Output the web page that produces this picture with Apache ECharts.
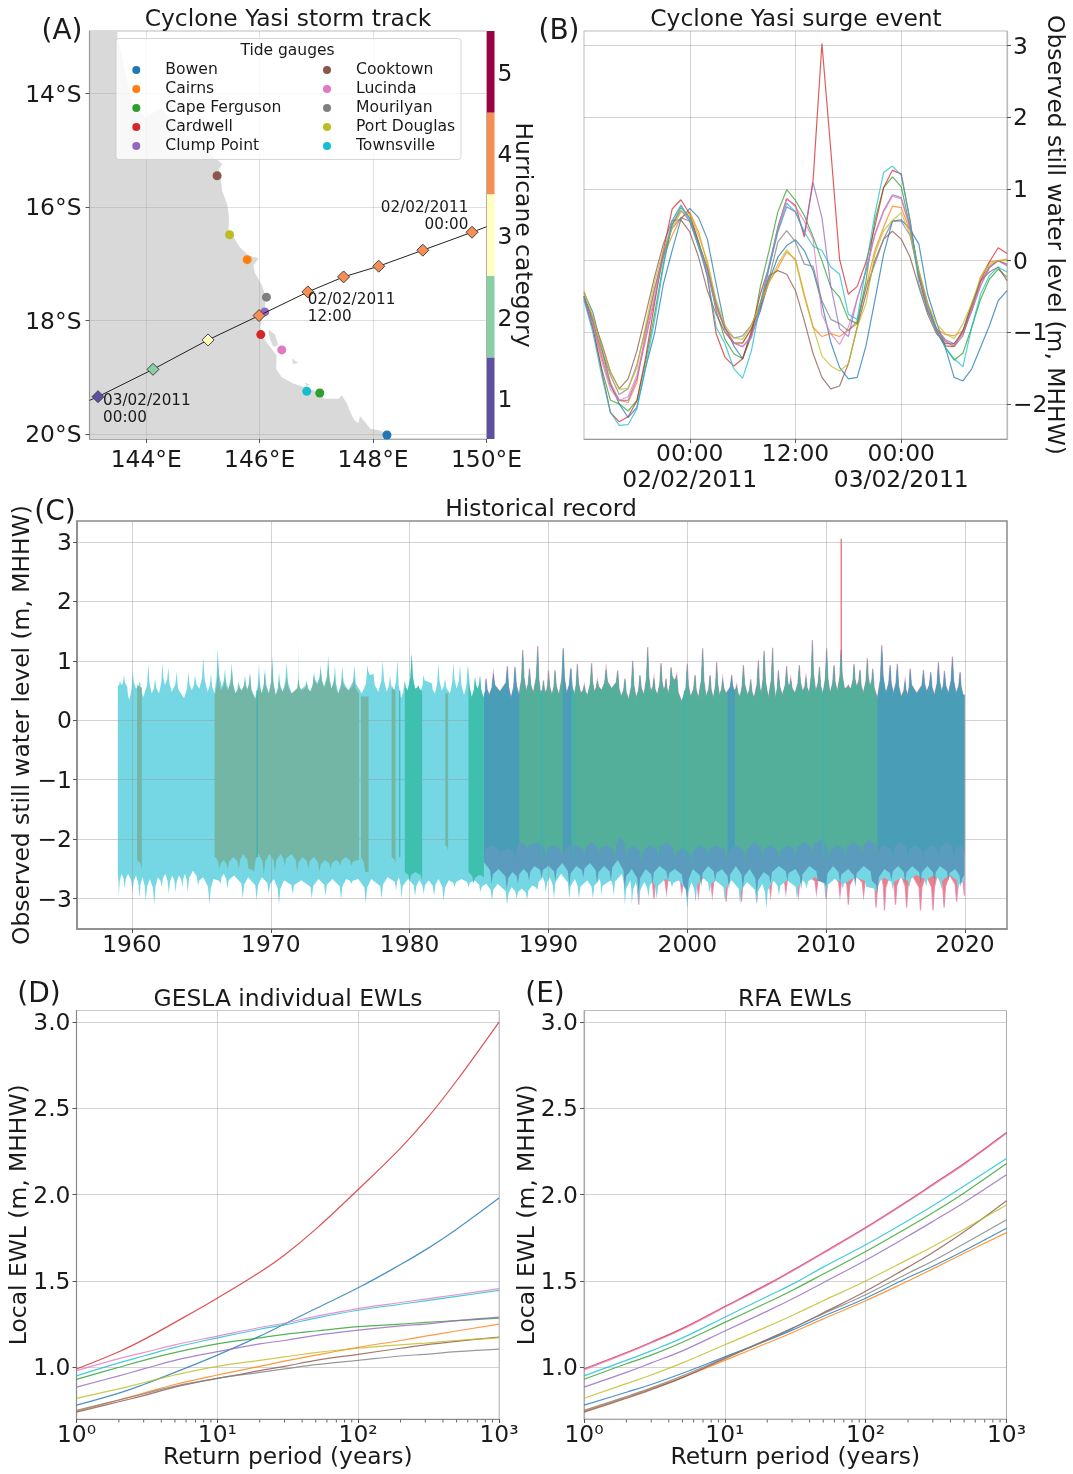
<!DOCTYPE html>
<html>
<head>
<meta charset="utf-8">
<style>html,body{margin:0;padding:0;background:#fff}#c{width:1073px;height:1474px}</style>
<script src="https://cdn.jsdelivr.net/npm/echarts@6/dist/echarts.min.js"></script>
</head>
<body>
<div id="c"></div>
<script>
// ---------- shared ----------
const gaugeNames = ['Bowen','Cairns','Cape Ferguson','Cardwell','Clump Point','Cooktown','Lucinda','Mourilyan','Port Douglas','Townsville'];
const gaugeColors = ['#1f77b4','#ff7f0e','#2ca02c','#d62728','#9467bd','#8c564b','#e377c2','#7f7f7f','#bcbd22','#17becf'];

// ---------- panel A ----------
const gaugeLons = [148.245,145.78,147.06,146.02,146.09,145.25,146.39,146.12,145.47,146.83];
const gaugeLats = [-20.02,-16.93,-19.28,-18.25,-17.85,-15.45,-18.52,-17.59,-16.49,-19.25];
const trackLine = [[150.0,-16.35],[149.745,-16.446],[148.877,-16.763],[148.10,-17.045],[147.48,-17.233],[146.85,-17.498],[145.99,-17.915],[145.09,-18.344],[144.12,-18.862],[143.15,-19.344],[143.0,-19.41]];
const trackFixes = [[149.745,-16.446],[148.877,-16.763],[148.10,-17.045],[147.48,-17.233],[146.85,-17.498],[145.99,-17.915],[145.09,-18.344],[144.12,-18.862],[143.15,-19.344]];
const trackCategories = [4,4,4,4,4,4,3,2,1];
const hurricaneCategories = [1,2,3,4,5];
const categoryColors = {1:'#5e4fa2',2:'#88cfa4',3:'#ffffbf',4:'#f98e52',5:'#9e0142'};
const annotationTexts = ['02/02/2011\n00:00','02/02/2011\n12:00','03/02/2011\n00:00'];
const annotationPoints = [[149.68,-16.17],[146.85,-17.80],[143.24,-19.57]];
const annotationAligns = ['right','left','left'];
const lonTicks = [144,146,148,150];
const latTicks = [-20,-18,-16,-14];
const mainland = [[143.49,-12.8],[143.49,-13.05],[143.58,-13.37],[143.64,-13.67],[143.75,-14.14],[143.99,-14.43],[144.26,-14.25],[144.40,-14.43],[144.70,-14.72],[144.99,-14.96],[145.25,-15.16],[145.34,-15.25],[145.28,-15.34],[145.31,-15.49],[145.34,-15.72],[145.43,-15.96],[145.46,-16.19],[145.45,-16.43],[145.54,-16.53],[145.65,-16.71],[145.80,-16.85],[145.98,-16.91],[145.89,-17.03],[145.92,-17.17],[146.04,-17.38],[146.10,-17.56],[146.10,-17.70],[146.07,-17.88],[146.01,-18.12],[146.07,-18.32],[146.21,-18.5],[146.30,-18.62],[146.29,-18.85],[146.39,-19.0],[146.59,-19.11],[146.77,-19.17],[146.95,-19.23],[147.15,-19.38],[147.39,-19.38],[147.45,-19.32],[147.54,-19.47],[147.60,-19.62],[147.67,-19.76],[147.74,-19.81],[147.77,-19.69],[147.86,-19.79],[147.95,-19.91],[148.12,-19.94],[148.24,-20.0],[148.33,-20.08],[148.45,-20.2],[143,-20.2],[143,-12.8]];
const hinchinbrook = [[146.15,-18.16],[146.27,-18.25],[146.33,-18.44],[146.24,-18.47],[146.18,-18.32]];
const palmIsland = [[146.57,-18.67],[146.68,-18.75],[146.59,-18.77]];
const magneticIsland = [[146.80,-19.10],[146.88,-19.13],[146.83,-19.17]];

// ---------- panel B ----------
const surgeHours = [-12,-11,-10,-9,-8,-7,-6,-5,-4,-3,-2,-1,0,1,2,3,4,5,6,7,8,9,10,11,12,13,14,15,16,17,18,19,20,21,22,23,24,25,26,27,28,29,30,31,32,33,34,35,36];
const surgeTimeLabels = {0:'00:00\n02/02/2011',12:'12:00',24:'00:00\n03/02/2011'};
const surgeBowen = [-.45,-.72,-1.21,-1.72,-2.0,-2.19,-2.05,-1.49,-1.02,-.33,.14,.58,.73,.6,.3,-.33,-.93,-1.19,-1.37,-1.02,-.7,-.28,.05,.21,.29,.14,-.14,-.6,-1.14,-1.49,-1.65,-1.63,-1.19,-.56,.09,.55,.57,.44,.23,-.47,-.86,-1.21,-1.63,-1.68,-1.51,-1.21,-.91,-.56,-.42];
const surgeCairns = [-.5,-.85,-1.3,-1.7,-1.95,-1.98,-1.7,-1.0,-.4,.05,.35,.6,.68,.4,-.05,-.6,-.95,-1.15,-1.15,-.95,-.65,-.3,-.1,.12,.02,-.47,-.93,-1.06,-1.02,-1.06,-.97,-.88,-.37,.14,.47,.76,.74,.42,-.23,-.7,-.95,-1.03,-1.05,-.98,-.7,-.23,-.02,0,.02];
const surgeCapeFerguson = [-.5,-.95,-1.5,-1.95,-2.0,-2.1,-1.95,-1.4,-.75,-.05,.5,.74,.6,.25,-.12,-.7,-1.1,-1.3,-1.37,-1.05,-.37,.14,.68,.99,.84,.63,.33,0,-.37,-.51,-.82,-.88,-.28,.56,1.02,1.17,1.03,.47,-.14,-.6,-.98,-1.21,-1.39,-1.29,-.93,-.54,-.26,-.12,-.23];
const surgeCardwell = [-.53,-.93,-1.54,-2.12,-2.25,-2.18,-1.96,-1.35,-.6,.14,.72,.85,.65,.26,-.23,-1.02,-1.35,-1.47,-1.37,-.98,-.47,-.09,.47,.86,.77,.33,1.13,3.03,1.55,.02,-.47,-.36,-.02,.47,1.02,1.26,1.21,.56,-.23,-.7,-.98,-1.19,-1.2,-.98,-.63,-.28,-.02,.18,.1];
const surgeClumpPoint = [-.5,-.9,-1.35,-1.75,-1.95,-1.95,-1.65,-1.1,-.55,.05,.5,.7,.55,.2,-.15,-.65,-.95,-1.15,-1.2,-1.05,-.7,-.1,.4,.75,.68,.38,1.09,.6,-.35,-.95,-1.06,-.53,-.14,.37,.7,.92,.88,.47,-.2,-.65,-.95,-1.1,-1.16,-1.02,-.7,-.35,-.1,0,-.07];
const surgeCooktown = [-.5,-.8,-1.15,-1.55,-1.79,-1.65,-1.26,-.75,-.23,.23,.56,.57,.4,.05,-.42,-.75,-1.0,-1.15,-1.15,-.95,-.65,-.21,-.14,-.19,-.42,-.84,-1.3,-1.63,-1.79,-1.75,-1.44,-.93,-.47,0,.3,.41,.3,.05,-.37,-.75,-1.02,-1.16,-1.16,-.98,-.6,-.28,-.16,-.09,-.28];
const surgeLucinda = [-.5,-.9,-1.4,-1.8,-1.95,-1.9,-1.6,-1.05,-.5,.1,.55,.78,.55,.2,-.15,-.65,-.95,-1.15,-1.2,-1.08,-.6,-.05,.45,.87,.75,.55,.3,-.75,-1.02,-1.17,-.93,-.53,-.15,.35,.68,.9,.86,.45,-.2,-.65,-.95,-1.12,-1.18,-1.02,-.7,-.35,-.1,0,-.05];
const surgeMourilyan = [-.5,-.85,-1.25,-1.6,-1.87,-1.79,-1.45,-.95,-.4,.1,.45,.6,.55,.25,-.1,-.6,-.95,-1.08,-1.05,-.9,-.6,-.25,.26,.42,.26,-.05,-.08,-.56,-.82,-.88,-.98,-.84,-.37,-.05,.3,.55,.55,.35,-.2,-.6,-.95,-1.13,-1.2,-1.05,-.65,-.3,-.08,0,-.05];
const surgePortDouglas = [-.42,-.78,-1.2,-1.55,-1.8,-1.78,-1.5,-.9,-.3,.15,.45,.68,.65,.35,0,-.55,-.9,-1.08,-1.1,-.9,-.6,-.3,-.05,.15,0,-.51,-.93,-1.33,-1.47,-1.54,-1.44,-.93,-.6,.09,.42,.56,.67,.37,-.14,-.6,-.88,-1.02,-1.09,-.88,-.6,-.23,-.05,0,0];
const surgeTownsville = [-.55,-1.0,-1.6,-2.12,-2.3,-2.29,-2.07,-1.49,-.84,-.09,.56,.77,.58,.19,-.21,-.93,-1.16,-1.51,-1.64,-1.26,-.6,-.09,.42,.8,.68,.4,.2,.14,-.09,-.19,-.75,-.82,-.09,.65,1.23,1.32,1.19,.56,-.33,-.7,-.98,-1.21,-1.37,-1.48,-.93,-.47,-.21,-.09,-.16];
const surgeTicks = [-2,-1,0,1,2,3];
const surgeSeries = [surgeBowen,surgeCairns,surgeCapeFerguson,surgeCardwell,surgeClumpPoint,surgeCooktown,surgeLucinda,surgeMourilyan,surgePortDouglas,surgeTownsville];

// ---------- panel C (envelopes as [year, metres]) ----------
const recordYears = [1960,1970,1980,1990,2000,2010,2020];
const recordTicks = [-3,-2,-1,0,1,2,3];
const recordUpper = [[1958.99,.57],[1959.14,.67],[1959.28,.59],[1959.42,.76],[1959.66,.56],[1959.81,.34],[1960.05,.85],[1960.29,.53],[1960.58,.67],[1960.82,.39],[1961.18,.95],[1961.42,.45],[1961.66,.70],[1961.95,.45],[1962.19,.97],[1962.38,.59],[1962.62,.89],[1962.86,.48],[1963.22,.81],[1963.75,.37],[1964.06,.81],[1964.30,.50],[1964.54,.76],[1964.85,.53],[1965.14,1.05],[1965.45,.48],[1965.69,.79],[1965.93,.45],[1966.17,1.21],[1966.46,.56],[1966.70,.87],[1966.94,.53],[1967.18,.97],[1967.45,.45],[1967.66,.65],[1967.90,.50],[1968.14,.76],[1968.31,.53],[1968.50,.81],[1968.86,.37],[1969.15,.95],[1969.34,.45],[1969.58,.87],[1969.87,.45],[1970.11,1.08],[1970.35,.42],[1970.59,.81],[1970.85,.48],[1971.14,.98],[1971.50,.45],[1971.94,.5],[1971.98,1.375],[1972.02,.5],[1972.22,.53],[1972.58,.67],[1972.82,.48],[1973.11,.81],[1973.35,.62],[1973.59,.93],[1973.83,.56],[1974.14,1.09],[1974.38,.53],[1974.62,.93],[1974.86,.45],[1975.15,.90],[1975.58,.50],[1976.02,.93],[1976.55,.45],[1976.96,.93],[1977.15,.76],[1977.39,.79],[1977.75,.48],[1978.06,1.0],[1978.35,.48],[1978.59,.76],[1978.83,.45],[1979.12,1.02],[1979.38,.37],[1979.62,.67],[1979.86,.50],[1980.15,1.12],[1980.39,.53],[1980.63,.59],[1980.82,.50],[1980.99,.76],[1981.59,.62],[1981.83,.45],[1982.07,.97],[1982.31,.50],[1982.55,.70],[1982.91,.45],[1983.15,.98],[1983.39,.53],[1983.63,.93],[1983.92,.42],[1984.18,.93],[1984.47,.39],[1984.71,.73],[1984.90,.53],[1985.07,.76],[1985.31,.39],[1985.50,.70],[1985.74,.42],[1986.03,.79],[1986.51,.48],[1987.04,.91],[1987.30,.37],[1987.59,.90],[1987.88,.42],[1988.15,1.18],[1988.39,.48],[1988.63,.87],[1988.91,.45],[1989.23,1.25],[1989.44,.42],[1989.64,.67],[1989.83,.45],[1990.0,.84],[1990.25,.42],[1990.47,.84],[1990.76,.42],[1991.07,1.21],[1991.31,.45],[1991.6,.87],[1991.86,.42],[1992.08,.95],[1992.32,.45],[1992.58,.59],[1992.82,.42],[1993.11,.96],[1993.30,.48],[1993.52,.67],[1993.83,.50],[1994.15,.87],[1994.55,.53],[1994.99,.84],[1995.23,.39],[1995.51,.70],[1995.78,.34],[1996.07,1.0],[1996.31,.37],[1996.59,.76],[1996.88,.42],[1997.15,1.23],[1997.36,.48],[1997.60,.71],[1997.84,.42],[1998.11,.96],[1998.30,.50],[1998.47,.70],[1998.64,.45],[1998.83,.89],[1999.04,.67],[1999.24,.76],[1999.60,.31],[2000.0,.95],[2000.24,.39],[2000.56,.76],[2000.80,.37],[2001.11,1.21],[2001.35,.39],[2001.64,.76],[2001.88,.37],[2002.12,.98],[2002.31,.42],[2002.55,.70],[2002.79,.45],[2003.20,.76],[2003.37,.50],[2003.56,.59],[2003.80,.39],[2004.04,.93],[2004.33,.42],[2004.57,.69],[2004.81,.37],[2005.12,1.01],[2005.31,.42],[2005.53,1.17],[2005.84,.37],[2006.15,1.22],[2006.34,.37],[2006.56,.84],[2006.85,.42],[2007.16,.91],[2007.31,.56],[2007.45,.70],[2007.76,.45],[2008.07,.93],[2008.31,.48],[2008.55,.73],[2008.79,.45],[2009.01,1.35],[2009.25,.48],[2009.52,.90],[2009.76,.42],[2010.04,1.21],[2010.28,.45],[2010.57,.93],[2010.81,.48],[2011.08,1.18],[2011.32,.53],[2011.60,.59],[2011.80,.53],[2012.01,.95],[2012.20,.56],[2012.44,.85],[2012.68,.45],[2012.97,1.04],[2013.16,.56],[2013.36,.87],[2013.69,.37],[2014.01,1.26],[2014.30,.45],[2014.61,.93],[2014.85,.45],[2015.13,.95],[2015.40,.39],[2015.69,.67],[2015.88,.42],[2016.05,.87],[2016.53,.45],[2017.01,.85],[2017.25,.48],[2017.54,.81],[2017.80,.42],[2018.09,.98],[2018.33,.48],[2018.52,.83],[2018.81,.45],[2019.10,1.07],[2019.36,.45],[2019.65,.81],[2019.84,.45],[2019.96,.42]];
const townsvilleLower = [[1958.98,-2.58],[1959.05,-2.96],[1959.25,-2.58],[1959.47,-2.83],[1959.72,-2.58],[1960.04,-2.89],[1960.29,-2.61],[1960.54,-2.99],[1960.76,-2.64],[1960.99,-3.04],[1961.28,-2.67],[1961.61,-3.09],[1961.86,-2.64],[1962.15,-2.81],[1962.40,-2.58],[1962.65,-2.92],[1962.90,-2.61],[1963.14,-2.89],[1963.39,-2.61],[1963.64,-2.81],[1963.82,-2.58],[1964.01,-2.89],[1964.39,-2.53],[1964.76,-2.78],[1965.13,-2.64],[1965.58,-3.10],[1965.87,-2.67],[1966.37,-2.75],[1966.62,-2.58],[1966.87,-2.83],[1967.36,-2.61],[1967.98,-3.0],[1968.36,-2.64],[1968.98,-3.03],[1969.35,-2.64],[1969.85,-2.92],[1970.22,-2.67],[1970.59,-3.10],[1970.96,-2.69],[1971.58,-2.92],[1972.2,-2.69],[1972.95,-3.0],[1973.44,-2.67],[1973.94,-2.95],[1974.44,-2.67],[1975.06,-3.02],[1975.43,-2.67],[1975.8,-2.75],[1976.3,-2.67],[1976.84,-3.08],[1977.24,-2.67],[1977.98,-3.0],[1978.41,-2.64],[1979.03,-2.86],[1979.23,-2.64],[1979.4,-3.0],[1979.89,-2.67],[1980.39,-2.96],[1980.69,-2.69],[1981.01,-2.92],[1981.38,-2.69],[1981.76,-2.95],[1982.08,-2.67],[1982.45,-3.04],[1982.82,-2.69],[1983.24,-2.81],[1983.74,-2.67],[1984.24,-2.81],[1984.68,-2.69],[1985.1,-2.89],[1985.53,-2.75],[1985.93,-3.03],[1986.35,-2.75],[1987.02,-3.11],[1987.34,-2.81],[1987.71,-3.0],[1988.08,-2.83],[1988.46,-3.02],[1988.83,-2.78],[1989.2,-2.86],[1989.6,-2.64],[1989.8,-2.89],[1990.1,-2.64],[1990.4,-3.0],[1990.9,-2.58],[1991.5,-3.0],[1991.9,-2.67],[1992.2,-3.0],[1992.8,-2.69],[1993.2,-3.0],[1993.7,-2.67],[1993.8,-2.95],[1994.5,-2.69],[1994.7,-2.95],[1995.3,-2.58],[1995.5,-3.10],[1995.9,-2.69],[1996.0,-3.10],[1996.3,-2.72],[1996.5,-3.11],[1996.9,-2.72],[1997.2,-2.97],[1997.5,-2.69],[1997.8,-3.0],[1998.4,-2.67],[1998.9,-2.81],[1999.4,-2.69],[2000.0,-3.17],[2000.3,-2.72],[2000.6,-3.06],[2001.1,-2.64],[2001.6,-2.89],[2002.0,-2.69],[2002.7,-3.02],[2003.2,-2.69],[2003.8,-3.09],[2004.3,-2.72],[2005.0,-3.11],[2005.4,-2.75],[2005.7,-3.17],[2006.2,-2.69],[2006.6,-2.95],[2007.2,-2.69],[2007.9,-3.0],[2008.3,-2.69],[2008.6,-2.83],[2009.2,-2.64],[2010.0,-2.97],[2010.6,-2.67],[2011.2,-2.83],[2011.7,-2.7],[2012.2,-2.65],[2012.9,-2.8],[2013.6,-2.9],[2014.2,-2.65],[2014.8,-2.85],[2015.4,-2.65],[2016,-2.8],[2016.5,-2.6],[2017.2,-2.8],[2017.8,-2.6],[2018.3,-2.85],[2018.9,-2.6],[2019.5,-2.85],[2019.96,-2.7]];
const cardwellLower = [[1985.4,-2.0],[1995.9,-2.0],[1996.2,-2.6],[1996.5,-3.1],[1997.0,-2.6],[1997.6,-3.0],[1998,-2.6],[1998.5,-2.9],[1999,-2.6],[1999.6,-2.9],[2000.2,-2.6],[2000.8,-2.95],[2001.3,-2.6],[2001.8,-2.95],[2002.4,-2.6],[2002.8,-3.05],[2003.3,-2.6],[2003.9,-3.05],[2004.5,-2.6],[2005,-3.05],[2005.5,-2.6],[2006,-2.95],[2006.5,-2.6],[2007.1,-2.9],[2007.6,-2.6],[2008,-2.95],[2008.6,-2.6],[2009.3,-2.9],[2009.7,-2.6],[2010,-3.0],[2010.5,-2.6],[2011,-2.95],[2011.3,-2.6],[2011.6,-3.1],[2012.1,-2.6],[2012.7,-2.95],[2013.3,-2.6],[2013.6,-3.15],[2014,-2.6],[2014.2,-3.2],[2014.6,-2.6],[2015,-3.1],[2015.4,-2.6],[2015.8,-3.15],[2016.2,-2.6],[2016.8,-3.2],[2017.2,-2.6],[2017.7,-3.2],[2018,-2.6],[2018.5,-3.15],[2018.9,-2.6],[2019.4,-3.05],[2019.7,-2.6],[2019.96,-2.95]];
const bowenLower = [[1985.4,-2.4],[1985.9,-2.75],[1986.4,-2.5],[1987,-2.85],[1987.4,-2.55],[1987.8,-2.75],[1988.2,-2.5],[1988.6,-2.7],[1989,-2.45],[1989.5,-2.65],[1990,-2.45],[1990.5,-2.7],[1991,-2.4],[1991.5,-2.8],[1992,-2.45],[1992.5,-2.65],[1993,-2.4],[1993.5,-2.75],[1994,-2.45],[1994.5,-2.7],[1995.0,-2.35],[1995.5,-2.85],[1996,-2.5],[1996.5,-2.95],[1997,-2.5],[1997.5,-2.75],[1998,-2.45],[1998.6,-2.7],[1999.1,-2.5],[1999.7,-2.75],[2000,-3.0],[2000.4,-2.5],[2001,-2.8],[2001.5,-2.45],[2002,-2.7],[2002.5,-2.5],[2003,-2.85],[2003.5,-2.45],[2004,-2.85],[2004.5,-2.5],[2005,-2.95],[2005.5,-2.55],[2006,-2.75],[2006.6,-2.45],[2007.2,-2.7],[2007.8,-2.5],[2008.2,-2.85],[2008.8,-2.45],[2009.4,-2.7],[2010,-2.8],[2010.5,-2.45],[2011,-2.75],[2011.6,-2.5],[2012.1,-2.8],[2012.7,-2.45],[2013.3,-2.7],[2013.7,-2.9],[2014.2,-2.5],[2014.7,-2.7],[2015.2,-2.45],[2015.7,-2.75],[2016.2,-2.45],[2016.8,-2.75],[2017.3,-2.45],[2017.8,-2.75],[2018.2,-2.45],[2018.8,-2.7],[2019.3,-2.5],[2019.7,-2.8],[2019.96,-2.6]];
const midLower = [[1985.35,-2.3],[1985.9,-2.1],[1986.5,-2.3],[1987.1,-2.15],[1987.6,-2.35],[1987.9,-2.05],[1988.5,-2.2],[1989.2,-2.05],[1989.8,-2.3],[1990.3,-2.1],[1990.9,-2.25],[1992,-2.1],[1992.6,-2.3],[1993.1,-2.05],[1993.6,-2.25],[1994.2,-2.1],[1994.8,-2.35],[1995.2,-1.95],[1995.6,-2.3],[1996.1,-2.1],[1996.7,-2.4],[1997.3,-2.1],[1997.9,-2.3],[1998.5,-2.05],[1999.1,-2.35],[1999.7,-2.15],[2000.3,-2.4],[2000.9,-2.1],[2001.5,-2.3],[2002.1,-2.1],[2002.8,-2.3],[2003.6,-2.1],[2004.2,-2.4],[2004.8,-2.05],[2005.4,-2.3],[2006,-2.1],[2006.6,-2.35],[2007.2,-2.1],[2007.8,-2.3],[2008.4,-2.05],[2009,-2.25],[2009.6,-2.0],[2010.2,-2.35],[2010.8,-2.1],[2011.4,-2.3],[2012,-2.05],[2012.6,-2.3],[2013.1,-2.0],[2013.7,-2.3],[2014.2,-2.1],[2014.8,-2.3],[2015.3,-2.05],[2015.9,-2.3],[2016.4,-2.1],[2017,-2.35],[2017.6,-2.1],[2018.1,-2.3],[2018.7,-2.05],[2019.2,-2.3],[2019.7,-2.1],[2019.96,-2.25]];
const shallowUpper = [[1960.37,.6],[1960.71,.55],[1966,.45],[1966.2,.97],[1966.4,.5],[1966.7,.72],[1966.9,.5],[1967.2,.85],[1967.45,.45],[1967.7,.62],[1967.9,.5],[1968.15,.7],[1968.3,.5],[1968.5,.78],[1968.9,.35],[1969.15,.7],[1969.35,.45],[1969.55,.8],[1969.85,.45],[1970.1,.95],[1970.35,.42],[1970.6,.68],[1970.85,.48],[1971.15,.75],[1971.5,.45],[1972,.7],[1972.2,.5],[1972.6,.62],[1972.85,.48],[1973.1,.75],[1973.35,.6],[1973.6,.85],[1973.85,.55],[1974.15,.95],[1974.35,.53],[1974.6,.75],[1974.85,.45],[1975.15,.72],[1975.6,.5],[1976,.72],[1976.35,.45],[1976.6,.4],[1977.05,.4],[1978.7,.6],[1979,.5],[1982.57,.45],[1982.77,.45]];
const shallowLower = [[1960.37,-2.35],[1960.71,-2.5],[1966,-2.3],[1966.3,-2.5],[1966.6,-2.35],[1966.9,-2.5],[1967.3,-2.3],[1967.7,-2.5],[1968,-2.25],[1968.4,-2.5],[1968.8,-2.55],[1969.1,-2.25],[1969.5,-2.6],[1969.9,-2.25],[1970.3,-2.55],[1970.7,-2.25],[1971,-2.45],[1971.5,-2.25],[1971.9,-2.55],[1972.3,-2.3],[1972.7,-2.5],[1973.1,-2.3],[1973.5,-2.55],[1973.9,-2.35],[1974.3,-2.5],[1974.7,-2.35],[1975,-2.45],[1975.4,-2.3],[1975.8,-2.45],[1976.2,-2.35],[1976.5,-2.3],[1976.8,-2.55],[1977.05,-2.55],[1978.7,-2.3],[1979,-2.4],[1982.57,-2.1],[1982.77,-2.2]];
const tealLower = [[1979.65,-2.55],[1980,-2.7],[1980.4,-2.55],[1980.9,-2.7],[1984.24,-2.55],[1984.6,-2.75],[1985.0,-2.6],[1985.35,-2.65]];
const shallowBlocks = [[1960.37,1960.71],[1965.95,1976.35],[1976.5,1977.04],[1978.7,1978.98],[1982.57,1982.77]];
const tealBlocks = [[1979.65,1980.9],[1984.24,1985.35]];
const coreBlocks = [[1987.9,1991.04],[1991.66,2002.9],[2003.43,2013.7]];
const bodyBlocks = [[1985.35,1987.9],[1991.04,1991.66],[2002.9,2003.43],[2013.7,2019.96]];
const streakBlocks = [[1968.97,1969.07],[1979.25,1979.33],[1989.45,1989.55],[1991.75,1991.85],[1999.75,1999.85],[2009.75,2009.85]];
const yasiSpike = [[2011.09,.9],[2011.09,3.05]];

// ---------- panels D & E ----------
const returnPeriods = [1,2,3,5,10,20,30,50,100,200,300,500,1000];
const minorReturnTicks = [2,3,4,5,6,7,8,9,20,30,40,50,60,70,80,90,200,300,400,500,600,700,800,900];
const ewlTicks = [1,1.5,2,2.5,3];
const gesla = [
 [.78,.85,.90,.97,1.07,1.18,1.25,1.34,1.46,1.595,1.68,1.80,1.98],
 [.745,.81,.85,.90,.955,1.005,1.035,1.07,1.115,1.155,1.18,1.21,1.25],
 [.93,1.0,1.04,1.085,1.135,1.17,1.19,1.21,1.235,1.25,1.26,1.27,1.285],
 [.99,1.09,1.16,1.26,1.40,1.55,1.65,1.80,2.03,2.27,2.43,2.66,3.0],
 [.885,.95,.99,1.04,1.09,1.135,1.155,1.185,1.215,1.24,1.25,1.27,1.29],
 [.74,.80,.835,.885,.935,.98,1.005,1.04,1.075,1.11,1.13,1.15,1.175],
 [.98,1.05,1.085,1.13,1.18,1.23,1.255,1.295,1.34,1.375,1.395,1.42,1.455],
 [.75,.81,.845,.89,.935,.97,.99,1.015,1.04,1.065,1.075,1.09,1.105],
 [.82,.875,.91,.955,1.005,1.04,1.06,1.085,1.11,1.13,1.14,1.155,1.17],
 [.95,1.025,1.065,1.115,1.17,1.22,1.245,1.285,1.33,1.365,1.385,1.41,1.445]
];
const rfa = [
 [.78,.855,.90,.965,1.06,1.155,1.215,1.295,1.40,1.52,1.585,1.675,1.805],
 [.745,.825,.875,.94,1.04,1.14,1.20,1.28,1.385,1.50,1.57,1.66,1.78],
 [.93,1.02,1.07,1.145,1.26,1.375,1.445,1.54,1.67,1.81,1.895,2.01,2.18],
 [.99,1.085,1.145,1.225,1.352,1.48,1.56,1.665,1.81,1.965,2.06,2.18,2.36],
 [.885,.97,1.025,1.095,1.21,1.325,1.395,1.49,1.62,1.76,1.845,1.955,2.115],
 [.74,.82,.87,.94,1.05,1.16,1.225,1.315,1.44,1.58,1.665,1.785,1.965],
 [.985,1.08,1.14,1.22,1.347,1.475,1.555,1.66,1.805,1.96,2.055,2.175,2.355],
 [.75,.83,.88,.95,1.055,1.16,1.225,1.31,1.42,1.545,1.615,1.715,1.855],
 [.82,.905,.955,1.025,1.13,1.235,1.30,1.385,1.50,1.625,1.70,1.80,1.94],
 [.95,1.04,1.095,1.17,1.29,1.41,1.48,1.58,1.71,1.85,1.935,2.05,2.21]
];

// ---------- styling ----------
const FONT = 'DejaVu Sans', INK = '#1a1a1a', SIZE = 23.4, GRID = 'rgba(150,150,150,0.42)', GRID_A = 'rgba(150,150,150,0.3)';
const chart = echarts.init(document.getElementById('c'), null, {renderer:'canvas'});
const minus = v => String(v).replace('-', '\u2212');
const sup = {1:'10\u2070',10:'10\u00b9',100:'10\u00b2',1000:'10\u00b3'};

function axisBase(o) {
  return Object.assign({
    type:'value', scale:true, z:3, nameMoveOverlap:false,
    axisLine:{show:true, onZero:false, lineStyle:{color:o.lineColor||'#8a8a8a', width:o.lineWidth||1.2}},
    axisTick:{show:true, length:4, lineStyle:{color:'#555', width:1}},
    axisLabel:{color:INK, fontFamily:FONT, fontSize:SIZE, margin:6, hideOverlap:false},
    nameTextStyle:{color:INK, fontFamily:FONT, fontSize:SIZE},
    splitLine:{show:true, lineStyle:{color:o.gridColor||GRID, width:1}}
  }, o.extra||{});
}
function custom(base, o) {
  const a = axisBase({lineColor:o.lineColor, lineWidth:o.lineWidth, gridColor:o.gridColor, extra:base});
  if (o.ticks) {
    a.axisTick.customValues = o.ticks;
    a.axisLabel.customValues = o.ticks;
  }
  if (o.fmt) a.axisLabel.formatter = o.fmt;
  if (o.margin !== undefined) a.axisLabel.margin = o.margin;
  if (o.drop) { a.axisLabel.verticalAlign = 'top'; a.axisLabel.lineHeight = o.drop; }
  if (o.name) {
    a.name = o.name; a.nameLocation = 'middle'; a.nameGap = o.nameGap; a.nameRotate = o.nameRotate;
  }
  return a;
}

const gridBase = {outerBoundsMode:'none', containLabel:false};
const grids = [
  {left:89.5, top:31, width:397, height:408, show:true, borderColor:'#bbb', borderWidth:1},
  {left:487, top:31, width:7.5, height:408},
  {left:584, top:31, width:423, height:408, show:true, borderColor:'#bbb', borderWidth:1},
  {left:77, top:521, width:930, height:408, show:true, borderColor:'#8a8a8a', borderWidth:1.5},
  {left:76.5, top:1010.5, width:422.5, height:408.5, show:true, borderColor:'#ccc', borderWidth:1},
  {left:584, top:1010.5, width:422.5, height:408.5, show:true, borderColor:'#bbb', borderWidth:1}
].map(g=>Object.assign({}, gridBase, g));

const xAxes = [
  custom({gridIndex:0, min:143, max:150}, {ticks:lonTicks, fmt:v=>v+'\u00b0E', margin:10, lineColor:'#aaa', gridColor:GRID_A}),
  {type:'value', gridIndex:1, min:0, max:1, show:false},
  custom({gridIndex:2, min:-12, max:36}, {ticks:Object.keys(surgeTimeLabels).map(Number), fmt:v=>surgeTimeLabels[v]||'', margin:3, lineColor:'#999'}),
  custom({gridIndex:3, min:1956.04, max:2023.03}, {ticks:recordYears, fmt:v=>String(v), margin:5, lineColor:'#8a8a8a', lineWidth:1.5}),
  custom({gridIndex:4, type:'log', logBase:10, min:1, max:1000}, {fmt:v=>sup[Math.round(v)]||'', margin:5, name:'Return period (years)', nameGap:27, lineColor:'#888'}),
  custom({gridIndex:5, type:'log', logBase:10, min:1, max:1000}, {fmt:v=>sup[Math.round(v)]||'', margin:5, name:'Return period (years)', nameGap:27, lineColor:'#aaa'})
];
xAxes[2].axisLabel.lineHeight = 26;

const yAxes = [
  custom({gridIndex:0, min:-20.09, max:-12.9}, {ticks:latTicks, fmt:v=>(-v)+'\u00b0S', margin:8, drop:5, lineColor:'#999', gridColor:GRID_A}),
  Object.assign(axisBase({extra:{gridIndex:1, min:.5, max:5.5, position:'right'}}), {
    axisLine:{show:false}, splitLine:{show:false},
    axisTick:{show:false, customValues:hurricaneCategories},
    axisLabel:{color:INK, fontFamily:FONT, fontSize:SIZE, margin:3, verticalAlign:'top', lineHeight:6, customValues:hurricaneCategories},
    name:'Hurricane category', nameLocation:'middle', nameGap:16, nameRotate:-90,
    nameTextStyle:{color:INK, fontFamily:FONT, fontSize:SIZE}
  }),
  custom({gridIndex:2, min:-2.49, max:3.205, position:'right'}, {ticks:surgeTicks, fmt:minus, margin:6, drop:4, name:'Observed still water level (m, MHHW)', nameGap:36, nameRotate:-90, lineColor:'#bbb'}),
  custom({gridIndex:3, min:-3.51, max:3.35}, {ticks:recordTicks, fmt:minus, margin:5, drop:4, name:'Observed still water level (m, MHHW)', nameGap:43, nameRotate:90, lineColor:'#8a8a8a', lineWidth:1.5}),
  custom({gridIndex:4, min:.7, max:3.067}, {ticks:ewlTicks, fmt:v=>v.toFixed(1), margin:6, drop:4, name:'Local EWL (m, MHHW)', nameGap:45, nameRotate:90, lineColor:'#888'}),
  custom({gridIndex:5, min:.7, max:3.067}, {ticks:ewlTicks, fmt:v=>v.toFixed(1), margin:6, drop:4, name:'Local EWL (m, MHHW)', nameGap:45, nameRotate:90, lineColor:'#aaa'})
];

// ---------- series helpers ----------
function polygonSeries(g, ring, fill, z) {
  return {type:'custom', coordinateSystem:'cartesian2d', xAxisIndex:g, yAxisIndex:g, z, clip:true, silent:true, data:ring,
    renderItem:(p, api) => p.dataIndex ? null : ({type:'polygon', shape:{points:ring.map(q=>api.coord(q))}, style:{fill}})};
}
// a record band's edge: each reading is drawn as a slim tip rising off its neighbours
function edge(list, dir) {
  const out = [];
  list.forEach((a,i)=>{
    out.push(a);
    const b = list[i+1];
    if (!b) return;
    const w = Math.min(.1, (b[0]-a[0])/3);
    if ((b[1]-a[1])*dir > 0) out.push([b[0]-w, a[1]+.35*(b[1]-a[1])]);
    else out.push([a[0]+w, b[1]+.35*(a[1]-b[1])]);
  });
  return out;
}
function bandSeries(g, upper, lower, from, to, fill, z, stroke) {
  const nearest = (list, x) => list.reduce((a,b)=>Math.abs(b[0]-x)<Math.abs(a[0]-x)?b:a);
  const take = list => [[from, nearest(list,from)[1]], ...list.filter(q=>q[0]>from && q[0]<to), [to, nearest(list,to)[1]]];
  const ring = [...edge(take(upper),1), ...edge(take(lower),-1).reverse()];
  return {type:'custom', coordinateSystem:'cartesian2d', xAxisIndex:g, yAxisIndex:g, z, clip:true, silent:true, data:ring,
    renderItem:(p, api) => p.dataIndex ? null : ({type:'polygon', shape:{points:ring.map(q=>api.coord(q))},
      style:{fill, stroke:stroke||null, lineWidth:stroke?1.2:0}})};
}

const series = [];
// panel A
series.push(polygonSeries(0, mainland, '#d9d9d9', 1));
series.push(polygonSeries(0, hinchinbrook, '#d9d9d9', 1));
series.push(polygonSeries(0, palmIsland, '#d9d9d9', 1));
series.push(polygonSeries(0, magneticIsland, '#d9d9d9', 1));
gaugeNames.forEach((name,i)=>series.push({type:'scatter', name, xAxisIndex:0, yAxisIndex:0, z:5, symbol:'circle', symbolSize:9,
  itemStyle:{color:gaugeColors[i], opacity:1}, data:[[gaugeLons[i],gaugeLats[i]]]}));
series.push({type:'line', xAxisIndex:0, yAxisIndex:0, z:6, data:trackLine, showSymbol:false, symbol:'none', lineStyle:{color:'#222', width:1}});
series.push({type:'scatter', xAxisIndex:0, yAxisIndex:0, z:7, symbol:'diamond', symbolSize:12,
  data:trackFixes.map((q,i)=>({value:q, itemStyle:{color:categoryColors[trackCategories[i]], borderColor:'#444', borderWidth:1, opacity:1}}))});
series.push({type:'scatter', xAxisIndex:0, yAxisIndex:0, z:7, symbolSize:1, itemStyle:{color:'transparent', opacity:1},
  data:annotationPoints.map((q,i)=>({value:q, label:{show:true, position:'inside', formatter:annotationTexts[i], align:annotationAligns[i], verticalAlign:'middle', color:INK, fontFamily:FONT, fontSize:15.2, lineHeight:17}}))});
// colourbar
series.push({type:'custom', xAxisIndex:1, yAxisIndex:1, silent:true, data:hurricaneCategories.map(c=>[0,c]),
  renderItem:(p, api)=>{ const c=api.value(1); const a=api.coord([0,c+.5]), b=api.coord([1,c-.5]);
    return {type:'rect', shape:{x:a[0], y:a[1], width:b[0]-a[0], height:b[1]-a[1]}, style:{fill:categoryColors[c]}}; }});
// panel B
gaugeNames.forEach((name,i)=>series.push({type:'line', name, xAxisIndex:2, yAxisIndex:2, z:4, showSymbol:false, symbol:'none',
  lineStyle:{color:gaugeColors[i], width:1.2, opacity:.75}, itemStyle:{color:gaugeColors[i]}, data:surgeHours.map((h,k)=>[h,surgeSeries[i][k]])}));
// panel C
series.push(bandSeries(3, recordUpper, cardwellLower, 1985.4, 2019.96, '#e98083', 1, 'rgba(232,130,175,0.8)'));
series.push(bandSeries(3, recordUpper, townsvilleLower, 1958.98, 2019.96, '#74d7e3', 2));
series.push(bandSeries(3, recordUpper, bowenLower, 1985.35, 2019.96, '#5b9bbd', 3));
bodyBlocks.forEach(b=>series.push(bandSeries(3, recordUpper, midLower, b[0], b[1], '#4a9db6', 4)));
shallowBlocks.forEach(b=>series.push(bandSeries(3, shallowUpper, shallowLower, b[0], b[1], '#74b6a6', 4)));
tealBlocks.forEach(b=>series.push(bandSeries(3, recordUpper, tealLower, b[0], b[1], '#3fc0af', 4)));
coreBlocks.forEach(b=>series.push(bandSeries(3, recordUpper, midLower, b[0], b[1], '#53ae9a', 4)));
streakBlocks.forEach(b=>series.push(bandSeries(3, [[b[0],.5]], [[b[0],-2.3]], b[0], b[1], '#3cb4ae', 5)));
series.push({type:'line', xAxisIndex:3, yAxisIndex:3, z:2, showSymbol:false, symbol:'none', lineStyle:{color:'rgba(225,60,65,0.65)', width:1.5}, data:yasiSpike});
// panels D and E
[[4,gesla],[5,rfa]].forEach(([g,table])=>{
  gaugeNames.forEach((name,i)=>series.push({type:'line', name, xAxisIndex:g, yAxisIndex:g, z:4, showSymbol:false, symbol:'none', smooth:.4,
    lineStyle:{color:gaugeColors[i], width:1.2, opacity:.8}, itemStyle:{color:gaugeColors[i]}, data:returnPeriods.map((t,k)=>[t,table[i][k]])}));
  series.push({type:'scatter', xAxisIndex:g, yAxisIndex:g, z:4, clip:false, silent:true, symbol:'rect', symbolSize:[1,3], symbolOffset:[0,2],
    itemStyle:{color:'#666', opacity:1}, data:minorReturnTicks.map(t=>[t,.7])});
});

const titleStyle = {color:INK, fontFamily:FONT, fontSize:SIZE, fontWeight:'normal'};
const tagStyle = {color:INK, fontFamily:FONT, fontSize:28, fontWeight:'normal'};
const titleAt = (text,x,y,style) => ({text, left:x, top:y, textAlign:'center', textVerticalAlign:'middle', padding:0, textStyle:style});
const titles = [
  titleAt('Cyclone Yasi storm track',288,20,titleStyle),
  titleAt('Cyclone Yasi surge event',796,20,titleStyle),
  titleAt('Historical record',541,510,titleStyle),
  titleAt('GESLA individual EWLs',288,1000,titleStyle),
  titleAt('RFA EWLs',795,1000,titleStyle),
  titleAt('(A)',62,32,tagStyle),
  titleAt('(B)',559,32,tagStyle),
  titleAt('(C)',55,513,tagStyle),
  titleAt('(D)',39,995,tagStyle),
  titleAt('(E)',545,995,tagStyle)
];

const legendBase = {orient:'vertical', selectedMode:false, icon:'circle', itemWidth:14, itemHeight:8, itemGap:3, padding:0, z:9, top:62,
  textStyle:{color:INK, fontFamily:FONT, fontSize:15.6, lineHeight:16, padding:[0,0,0,17]}};

chart.setOption({
  animation:false, backgroundColor:'#fff',
  title:titles,
  grid:grids, xAxis:xAxes, yAxis:yAxes, series,
  legend:[
    Object.assign({}, legendBase, {left:132.3, data:gaugeNames.slice(0,5)}),
    Object.assign({}, legendBase, {left:323, data:gaugeNames.slice(5)})
  ],
  graphic:[
    {type:'rect', z:8, silent:true, shape:{x:116, y:38.5, width:345, height:121, r:3}, style:{fill:'rgba(255,255,255,0.8)', stroke:'rgba(204,204,204,0.8)', lineWidth:1}},
    {type:'text', z:9, silent:true, style:{text:'Tide gauges', x:287.5, y:51, align:'center', verticalAlign:'middle', fill:INK, font:'15.5px "DejaVu Sans"'}}
  ]
});
</script>
</body>
</html>
